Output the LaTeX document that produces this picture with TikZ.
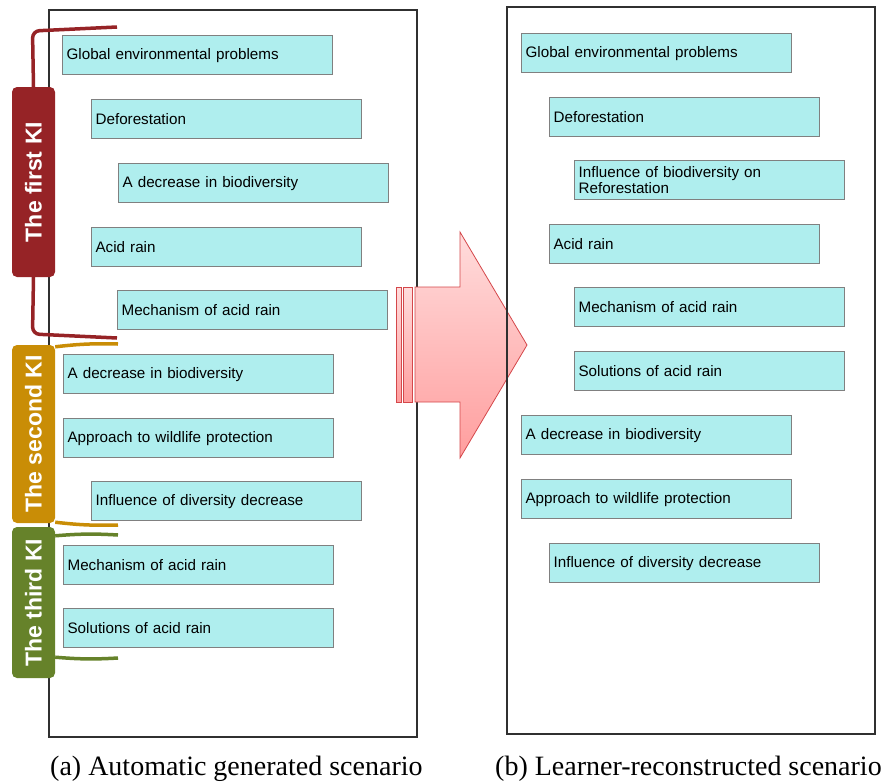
\documentclass[tikz,border=0pt]{standalone}
\usepackage{fontspec}
\setmainfont{Liberation Sans}
\newfontfamily\capfont{Liberation Serif}
\usetikzlibrary{calc}
\definecolor{boxfill}{HTML}{AFEEEE}
\definecolor{boxedge}{HTML}{808080}
\definecolor{framecol}{HTML}{303030}
\definecolor{kired}{HTML}{962326}
\definecolor{kigold}{HTML}{C98D06}
\definecolor{kigreen}{HTML}{66822A}
\definecolor{arrowtop}{HTML}{FFDCDC}
\definecolor{arrowbot}{HTML}{FF9E9E}
\definecolor{arrowedge}{HTML}{D4474A}
\begin{document}
\begin{tikzpicture}[x=1pt,y=-1pt,
  topic/.style={draw=boxedge, fill=boxfill, line width=1.2pt, anchor=north west,
    minimum width=270pt, minimum height=39pt, text width=262pt, inner xsep=4pt,
    inner ysep=0pt, align=left, font=\fontsize{15.2}{15.5}\selectfont},
  kibox/.style={fill=#1, rounded corners=5pt, rotate=90, minimum height=43pt,
    inner sep=0pt, text=white, font=\fontsize{23}{23}\selectfont\bfseries},
  kiline/.style={draw=#1, line width=3.5pt},
  frame/.style={draw=framecol, line width=2pt},
  caption/.style={font=\capfont\fontsize{28}{28}\selectfont, anchor=base west, inner sep=0pt}]
\useasboundingbox (0,0) rectangle (881,782);

% scenario (a): frame and topics
\draw[frame] (49,10) rectangle (417,737);
\node[topic] (a1) at (62,35) {Global environmental problems};
\node[topic] (a2) at (91,99) {Deforestation};
\node[topic] (a3) at (118,163) {A decrease in biodiversity};
\node[topic] (a4) at (91,227) {Acid rain};
\node[topic] (a5) at (117,290) {Mechanism of acid rain};
\node[topic] (a6) at (63,354) {A decrease in biodiversity};
\node[topic] (a7) at (63,418) {Approach to wildlife protection};
\node[topic] (a8) at (91,481) {Influence of diversity decrease};
\node[topic] (a9) at (63,545) {Mechanism of acid rain};
\node[topic] (a10) at (63,608) {Solutions of acid rain};

% knowledge-item labels and their brackets
\node[kibox=kired, minimum width=190pt] (ki1) at (33.5,182) {The first KI};
\node[kibox=kigold, minimum width=178pt] (ki2) at (33.5,434) {The second KI};
\node[kibox=kigreen, minimum width=151pt] (ki3) at (33.5,602.5) {The third KI};

\coordinate (r1) at (117,27);
\coordinate (r2) at (117,338);
\coordinate (g1) at (118,344);
\coordinate (g2) at (118,525);
\coordinate (v1) at (118,535);
\coordinate (v2) at (118,658);
\draw[kiline=kired, rounded corners=7pt] (ki1.east) -- (32.5,31) -- (r1);
\draw[kiline=kired, rounded corners=7pt] (ki1.west) -- (32.5,334) -- (r2);
\draw[kiline=kigold] ($(ki2.south east)+(0,2)$) to[bend left=4] (g1);
\draw[kiline=kigold] ($(ki2.south west)+(0,-1)$) to[bend right=4] (g2);
\draw[kiline=kigreen] ($(ki3.south east)+(0,9)$) to[bend left=4] (v1);
\draw[kiline=kigreen] ($(ki3.south west)+(0,-21)$) to[bend right=4] (v2);

% transition arrow
\shade[top color=arrowtop, bottom color=arrowbot, draw=arrowedge, line width=0.8pt]
  (415,287) -- (460,287) -- (460,232) -- (527,345) -- (460,458) -- (460,402) -- (415,402) -- cycle;
\shade[top color=arrowtop, bottom color=arrowbot, draw=arrowedge, line width=0.8pt]
  (396,287) rectangle (401,402);
\shade[top color=arrowtop, bottom color=arrowbot, draw=arrowedge, line width=0.8pt]
  (403,287) rectangle (412,402);

% scenario (b): frame and topics
\draw[frame] (507,7) rectangle (875,734);
\node[topic] (b1) at (521,33) {Global environmental problems};
\node[topic] (b2) at (549,97) {Deforestation};
\node[topic] (b3) at (574,160) {Influence of biodiversity on\\Reforestation};
\node[topic] (b4) at (549,224) {Acid rain};
\node[topic] (b5) at (574,287) {Mechanism of acid rain};
\node[topic] (b6) at (574,351) {Solutions of acid rain};
\node[topic] (b7) at (521,415) {A decrease in biodiversity};
\node[topic] (b8) at (521,479) {Approach to wildlife protection};
\node[topic] (b9) at (549,543) {Influence of diversity decrease};

% captions
\node[caption] (capa) at (50,775) {(a) Automatic generated scenario};
\node[caption] (capb) at (495,775) {(b) Learner-reconstructed scenario};
\end{tikzpicture}
\end{document}
